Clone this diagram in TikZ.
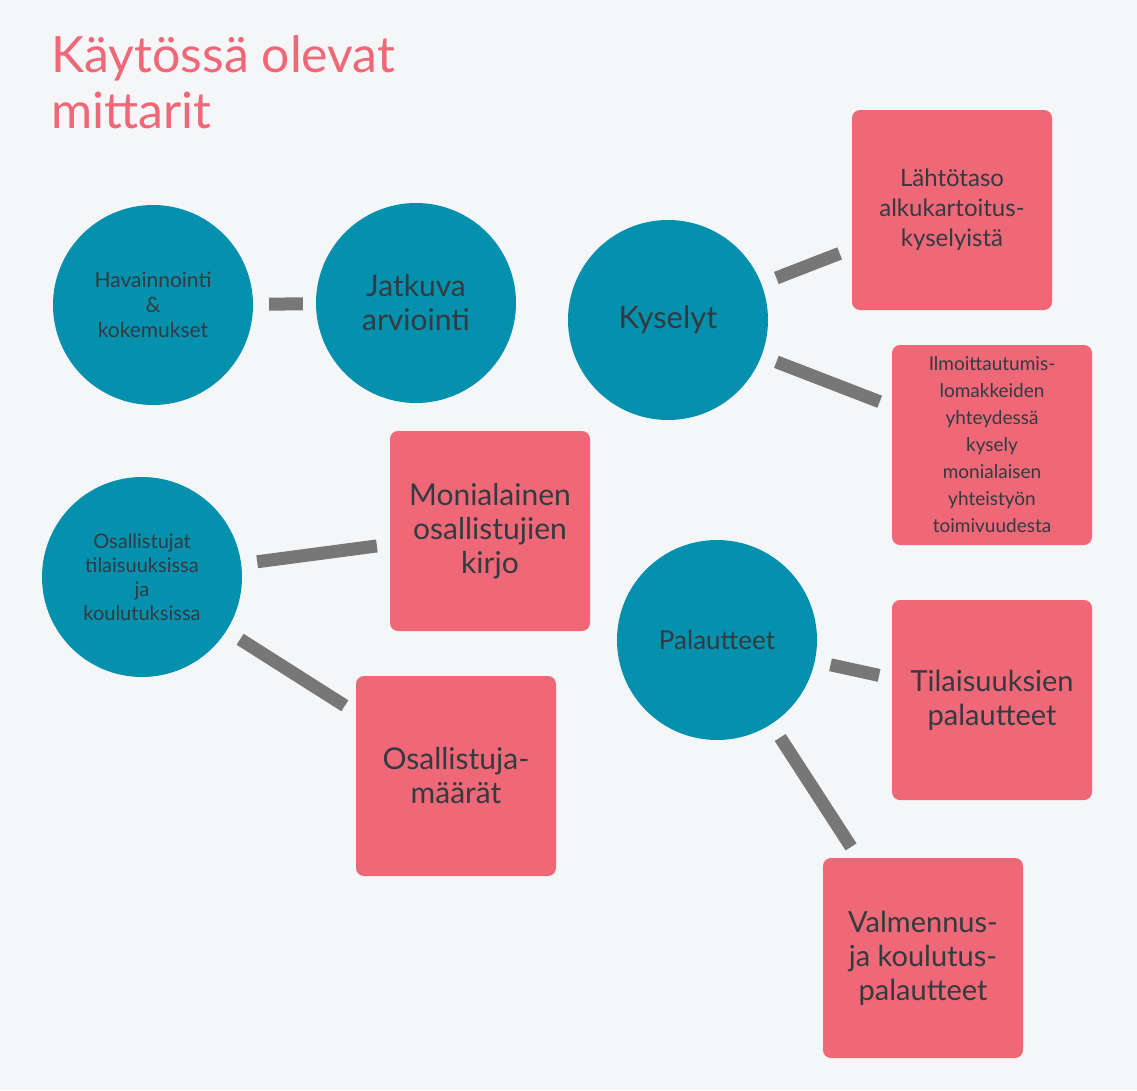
\documentclass[tikz,border=0pt]{standalone}
\usepackage{fontspec}
\setmainfont{Lato}
\definecolor{bg}{HTML}{F5F6F8}
\definecolor{teal}{HTML}{0591AD}
\definecolor{pink}{HTML}{EE6878}
\definecolor{txt}{HTML}{333A40}
\definecolor{conn}{HTML}{777777}
\tikzset{
 circ/.style={circle,fill=teal,minimum size=200pt,inner sep=0pt,align=center,text=txt},
 pbox/.style={rectangle,rounded corners=8pt,fill=pink,minimum size=200pt,inner sep=0pt,align=center,text=txt},
 link/.style={draw=conn,line width=13pt,shorten <=16pt,shorten >=13pt}
}
\begin{document}
\begin{tikzpicture}[x=1pt,y=-1pt]
\useasboundingbox[fill=bg] (0,0) rectangle (1137,1090);
\node[anchor=north west,text=pink,align=left,font=\fontsize{50}{56}\selectfont] (title) at (48,32) {Käytössä olevat\\mittarit};
\node[circ,font=\fontsize{21}{25}\selectfont] (hav) at (153,305) {Havainnointi\\\&\\kokemukset};
\node[circ,font=\fontsize{30}{34}\selectfont] (jat) at (416,303) {Jatkuva\\arviointi};
\node[circ,font=\fontsize{31}{36}\selectfont] (kys) at (668,320) {Kyselyt};
\node[circ,font=\fontsize{20}{24}\selectfont] (osa) at (142,577) {Osallistujat\\tilaisuuksissa\\ja\\koulutuksissa};
\node[circ,font=\fontsize{26}{30}\selectfont] (pal) at (717,640) {Palautteet};
\node[pbox,font=\fontsize{24}{30}\selectfont] (lah) at (952,210) {Lähtötaso\\alkukartoitus-\\kyselyistä};
\node[pbox,font=\fontsize{19}{27}\selectfont] (ilm) at (992,445) {Ilmoittautumis-\\lomakkeiden\\yhteydessä\\kysely\\monialaisen\\yhteistyön\\toimivuudesta};
\node[pbox,font=\fontsize{30}{34}\selectfont] (mon) at (490,531) {Monialainen\\osallistujien\\kirjo};
\node[pbox,font=\fontsize{30}{34}\selectfont] (maa) at (456,776) {Osallistuja-\\määrät};
\node[pbox,font=\fontsize{29}{34}\selectfont] (til) at (992,700) {Tilaisuuksien\\palautteet};
\node[pbox,font=\fontsize{29}{34}\selectfont] (val) at (923,958) {Valmennus-\\ja koulutus-\\palautteet};
\draw[link] (hav) -- (jat);
\draw[link] (kys) -- (lah);
\draw[link] (kys) -- (ilm);
\draw[link] (osa) -- (mon);
\draw[link] (osa) -- (maa);
\draw[link] (pal) -- (til);
\draw[link] (pal) -- (val);
\end{tikzpicture}
\end{document}
